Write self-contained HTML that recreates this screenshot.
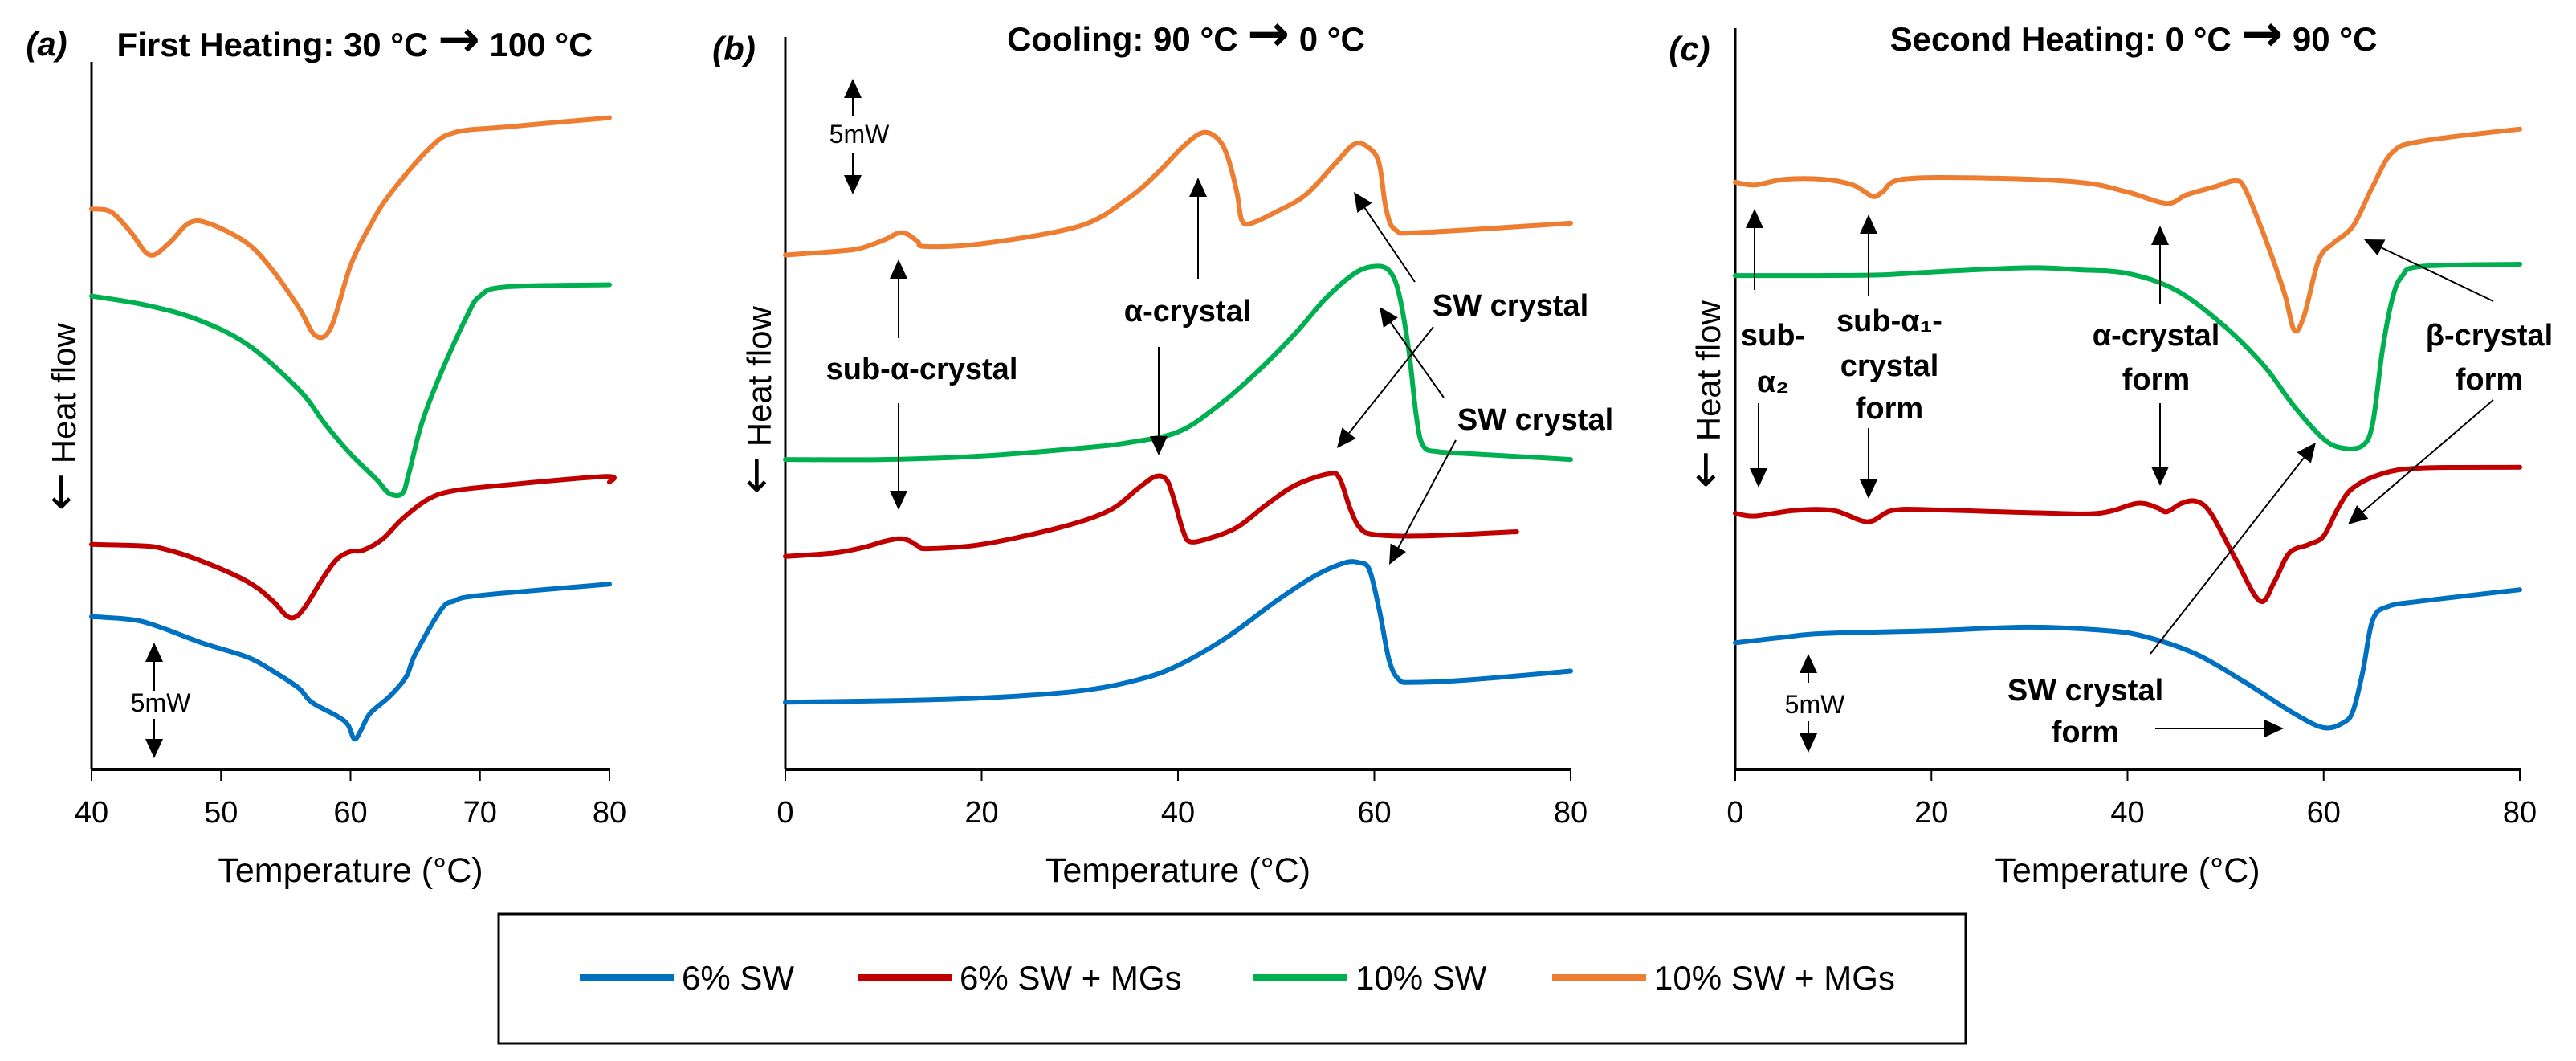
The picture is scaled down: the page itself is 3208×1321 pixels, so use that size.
<!DOCTYPE html>
<html><head><meta charset="utf-8"><style>
html,body{margin:0;padding:0;background:#fff;}
svg{display:block;font-family:"Liberation Sans","DejaVu Sans",sans-serif;}
</style></head><body>
<svg id="fig" width="3208" height="1321" viewBox="0 0 3208 1321" xmlns="http://www.w3.org/2000/svg">
<g id="layer"></g>
</svg>
<script>
// ---- data (heat flow in arbitrary offset units) ----
const seriesNames = ["6% SW","6% SW + MGs","10% SW","10% SW + MGs"];
const seriesColors = ["#0070C0","#C00000","#00B050","#ED7D31"];

// Panel (a) first heating
const aBlueT = [40,43,45,48.5,52,54,56,57,59,59.8,60.3,60.8,61.5,63,64.3,65,67,68,70,80];
const aBlueV = [21.6,21.2,20.3,17.9,15.9,13.9,11.5,9.5,7.5,6.3,4.3,5.5,7.9,10.3,13.1,16.3,22.6,23.8,24.6,26.2];
const aRedT = [40,44,45.5,48,52,54,55,55.7,56.5,58,59,60,61,62.5,64,66,68,72,79.7,80];
const aRedV = [31.8,31.6,31.2,29.8,26.6,23.8,21.8,21.5,23.0,27.4,29.8,30.8,31.0,32.6,35.4,38.2,39.4,40.2,41.4,40.6];
const aGreenT = [40,44,48,52,56,58,60,62,63,64,64.5,65.5,67,69,70,72,80];
const aGreenV = [66.9,65.7,63.7,60.1,53.7,48.9,44.6,41.0,39.0,39.0,41.8,48.9,56.1,64.1,66.9,68.2,68.5];
const aOrangeT = [40,41.5,43,44.5,46,47.5,49,52,54,56,57.3,58.5,60,61.5,63,66,68,72,80];
const aOrangeV = [79.2,78.8,76.0,72.7,74.4,77.2,77.2,74.4,70.5,65.3,61.3,62.5,71.2,76.8,81.2,87.6,90.0,90.8,92.1];

// Panel (b) cooling
const bBlueT = [0,10,20,30,36,40,45,50,54,57,58.5,59.5,60.5,61.5,62.5,64,70,80];
const bBlueV = [9.5,9.7,10.1,11.1,12.7,14.7,18.7,23.8,27.4,29.2,29.2,28.2,22.6,15.5,12.7,12.3,12.7,13.9];
const bRedT = [0,5,8,10,11.5,12.5,13.5,14.5,20,28,33,36,37.7,38.8,39.5,40.5,41.2,43,46,49,52,55.5,56.5,57.5,58.5,60,65,74.5];
const bRedV = [30.1,30.6,31.4,32.2,32.6,32.4,31.6,31.2,31.8,34.2,36.6,39.8,41.4,41.0,38.6,33.8,32.2,32.6,34.2,37.4,40.2,41.8,41.0,37.0,34.2,33.2,33.0,33.6];
const bGreenT = [0,10,20,30,35,40,44,48,52,55,58,60,61.5,62.5,63.5,64.3,65,66.5,70,80];
const bGreenV = [43.8,43.8,44.3,45.4,46.2,47.7,51.3,56.1,61.7,66.5,70.1,71.1,70.5,67.3,59.3,49.7,45.7,44.9,44.6,43.8];
const bOrangeT = [0,5,7.5,10,11.5,12.5,13.5,14.3,20,30,35,38,40.5,42.5,44,45,46,46.5,47.5,50,53,56,58,59.5,60.5,61.2,62.2,65,80];
const bOrangeV = [72.7,73.2,73.6,74.8,75.8,75.6,74.6,73.9,74.3,76.8,80.8,84.4,88.0,90.0,89.2,86.8,81.6,77.6,77.2,78.8,81.2,85.6,88.4,87.8,85.6,79.2,76.2,75.9,77.2];

// Panel (c) second heating
const cBlueT = [0,5,9,20,30,38,42,47,52,57,60,62,63,64,65,66.5,70,80];
const cBlueV = [17.9,18.7,19.2,19.6,20.1,19.6,18.7,16.3,12.3,7.9,5.9,6.6,8.3,13.9,21.1,23.0,23.8,25.4];
const cRedT = [0,2,6,10,13.5,16,20,30,37,41,43,44,45.5,47,48.5,51,53.5,55,56.5,58.5,60,61.5,63,66,70,80];
const cRedV = [36.2,35.8,36.6,36.6,35.0,36.6,36.7,36.3,36.2,37.6,37.0,36.4,37.6,37.9,36.2,29.8,23.8,26.6,30.6,31.8,33.0,37.0,39.8,41.8,42.6,42.7];
const cGreenT = [0,8,15,20,30,35,40,45,50,54,57,60,62,64,65,66,67,68,70,80];
const cGreenV = [69.8,69.8,69.9,70.3,70.9,70.6,70.1,67.7,62.5,56.9,51.3,46.7,45.4,45.8,48.9,59.3,66.5,69.7,71.1,71.4];
const cOrangeT = [0,2,5,9,12,14,15,17,25,35,40,44,46,49,51,52,54,56,57,58,59.5,61,63,65,67,70,80];
const cOrangeV = [83.0,82.6,83.4,83.4,82.6,81.0,81.6,83.4,83.6,83.0,81.6,80.0,81.2,82.4,83.2,82.0,75.2,67.3,62.1,64.1,72.0,74.4,76.8,82.4,87.2,88.8,90.5];

const aTicks = [40,50,60,70,80];
const bTicks = [0,20,40,60,80];
const cTicks = [0,20,40,60,80];

// ---- drawing ----
const NS = "http://www.w3.org/2000/svg";
const layer = document.getElementById('layer');
function mk(tag, attrs, parent){
  const e = document.createElementNS(NS, tag);
  for (const k in attrs) e.setAttribute(k, attrs[k]);
  (parent||layer).appendChild(e);
  return e;
}
const Y0 = 958, YK = 8.81;
function yScale(v){ return Y0 - v*YK; }
function smoothPath(pts){
  let d = "M"+pts[0][0].toFixed(1)+","+pts[0][1].toFixed(1);
  for (let i=0;i<pts.length-1;i++){
    const p0=pts[i-1]||pts[i], p1=pts[i], p2=pts[i+1], p3=pts[i+2]||p2;
    const c1x=p1[0]+(p2[0]-p0[0])/6, c1y=p1[1]+(p2[1]-p0[1])/6;
    const c2x=p2[0]-(p3[0]-p1[0])/6, c2y=p2[1]-(p3[1]-p1[1])/6;
    d+=" C"+c1x.toFixed(1)+","+c1y.toFixed(1)+" "+c2x.toFixed(1)+","+c2y.toFixed(1)+" "+p2[0].toFixed(1)+","+p2[1].toFixed(1);
  }
  return d;
}
function text(x,y,str,opts,name){
  const t = mk('text', Object.assign({x:x,y:y,'font-size':36,'text-anchor':'middle',fill:'#000'}, opts||{}));
  t.textContent = str;
  
  
  return t;
}
// text with a large arrow glyph in the middle
function arrowText(x,y,before,arrowCh,after,opts,name){
  const t = mk('text', Object.assign({x:x,y:y,'font-size':36,'text-anchor':'middle',fill:'#000'}, opts||{}));
  
  
  const s1 = mk('tspan',{},t); s1.textContent = before;
  const s2 = mk('tspan',{'font-size':Math.round((opts['font-size']||36)*1.5),'font-family':'DejaVu Sans, sans-serif','font-weight':'bold'},t); s2.textContent = arrowCh;
  const s3 = mk('tspan',{},t); s3.textContent = after;
  return t;
}
function arrow(x1,y1,x2,y2,w,name){
  const g = mk('g',{});
  
  
  const dx=x2-x1, dy=y2-y1, L=Math.hypot(dx,dy), ux=dx/L, uy=dy/L;
  const hl=24, hw=11;
  const bx=x2-ux*hl, by=y2-uy*hl;
  mk('line',{x1:x1,y1:y1,x2:bx,y2:by,stroke:'#000','stroke-width':w||2},g);
  mk('polygon',{points:x2+","+y2+" "+(bx-uy*hw)+","+(by+ux*hw)+" "+(bx+uy*hw)+","+(by-ux*hw),fill:'#000'},g);
}
function panel(id, x0, x1, xmin, xmax, ticks, yTop, series){
  const g = mk('g',{});
  
  
  const xs = t => x0 + (t-xmin)/(xmax-xmin)*(x1-x0);
  const ya = mk('line',{x1:x0,y1:yTop,x2:x0,y2:Y0,stroke:'#000','stroke-width':3},g);
  
  
  const xa = mk('line',{x1:x0-1,y1:Y0,x2:x1+1,y2:Y0,stroke:'#000','stroke-width':4},g);
  
  
  ticks.forEach(t=>{
    const tk = mk('line',{x1:xs(t),y1:Y0,x2:xs(t),y2:Y0+14,stroke:'#000','stroke-width':2},g);
    
    
    text(xs(t), Y0+66, String(t), {'font-size':38}, 'x-tick-label');
  });
  text((x0+x1)/2, 1098, "Temperature (°C)", {'font-size':43}, 'x-axis-title');
  series.forEach((s,i)=>{
    const pts = s[0].map((t,j)=>[xs(t), yScale(s[1][j])]);
    const p = mk('path',{d:smoothPath(pts),fill:'none',stroke:seriesColors[i],'stroke-width':6,'stroke-linejoin':'round','stroke-linecap':'round'},g);
    
    
  });
}
panel('a',114,759,40,80,aTicks,77,[[aBlueT,aBlueV],[aRedT,aRedV],[aGreenT,aGreenV],[aOrangeT,aOrangeV]]);
panel('b',978,1956,0,80,bTicks,46,[[bBlueT,bBlueV],[bRedT,bRedV],[bGreenT,bGreenV],[bOrangeT,bOrangeV]]);
panel('c',2161,3138,0,80,cTicks,35,[[cBlueT,cBlueV],[cRedT,cRedV],[cGreenT,cGreenV],[cOrangeT,cOrangeV]]);

// titles
const B = {'font-weight':'bold','font-size':42};
text(58,69,"(a)",{'font-weight':'bold','font-style':'italic','font-size':42},'panel-label-a');
arrowText(442,70,"First Heating: 30 °C ","→"," 100 °C",B,'panel-title-a');
text(914,75,"(b)",{'font-weight':'bold','font-style':'italic','font-size':42},'panel-label-b');
arrowText(1477,63,"Cooling: 90 °C ","→"," 0 °C",B,'panel-title-b');
text(2104,75,"(c)",{'font-weight':'bold','font-style':'italic','font-size':42},'panel-label-c');
arrowText(2657,63,"Second Heating: 0 °C ","→"," 90 °C",B,'panel-title-c');

// y axis titles
[[94,519,'a'],[960,498,'b'],[2142,491,'c']].forEach(p=>{
  const t = mk('text',{x:p[0],y:p[1],'font-size':42,'text-anchor':'middle',fill:'#000',transform:'rotate(-90 '+p[0]+' '+p[1]+')'});
  
  
  const s1 = mk('tspan',{'font-size':56,'font-family':'DejaVu Sans, sans-serif'},t); s1.textContent = "←";
  const s2 = mk('tspan',{},t); s2.textContent = " Heat flow";
});

// 5mW scale bars
function scale(x,yUp1,yUp2,yT,yD1,yD2,name){
  arrow(x,yUp1,x,yUp2,2,name+'-up');
  text(x+8,yT,"5mW",{'font-size':32},name+'-text');
  arrow(x,yD1,x,yD2,2,name+'-down');
}
scale(192,860,800,886,895,944,'scale-bar-a');
scale(1062,145,98,178,190,242,'scale-bar-b');
scale(2252,850,814,888,898,937,'scale-bar-c');

// annotations panel b
const AB = {'font-weight':'bold','font-size':38};
text(1148,472,"sub-α-crystal",AB,'annotation-sub-alpha-b');
arrow(1119,421,1119,323,2,'arrow-sub-alpha-up');
arrow(1119,502,1119,635,2,'arrow-sub-alpha-down');
text(1479,400,"α-crystal",AB,'annotation-alpha-b');
arrow(1492,347,1492,221,2,'arrow-alpha-up');
arrow(1443,432,1443,567,2,'arrow-alpha-down');
text(1881,393,"SW crystal",AB,'annotation-sw-1');
arrow(1762,351,1686,239,2,'arrow-sw-orange');
arrow(1785,407,1665,558,2,'arrow-sw-red');
text(1912,535,"SW crystal",AB,'annotation-sw-2');
arrow(1798,495,1718,382,2,'arrow-sw-green');
arrow(1813,548,1730,703,2,'arrow-sw-blue');

// annotations panel c
text(2208,430,"sub-",AB,'annotation-sub-a2');
text(2208,488,"α₂",AB,'annotation-sub-a2-sym');
arrow(2185,361,2185,260,2,'arrow-sub-a2-up');
arrow(2190,502,2190,607,2,'arrow-sub-a2-down');
text(2353,412,"sub-α₁-",AB,'annotation-sub-a1');
text(2353,468,"crystal",AB,'annotation-sub-a1-2');
text(2353,521,"form",AB,'annotation-sub-a1-3');
arrow(2327,368,2327,267,2,'arrow-sub-a1-up');
arrow(2327,533,2327,621,2,'arrow-sub-a1-down');
text(2685,430,"α-crystal",AB,'annotation-alpha-c');
text(2685,485,"form",AB,'annotation-alpha-c-2');
arrow(2690,379,2690,281,2,'arrow-alpha-c-up');
arrow(2690,502,2690,605,2,'arrow-alpha-c-down');
text(3100,430,"β-crystal",AB,'annotation-beta');
text(3100,485,"form",AB,'annotation-beta-2');
arrow(3105,375,2944,298,2,'arrow-beta-orange');
arrow(3105,498,2924,653,2,'arrow-beta-red');
text(2597,872,"SW crystal",AB,'annotation-sw-c');
text(2597,924,"form",AB,'annotation-sw-c-2');
arrow(2678,814,2884,551,2,'arrow-sw-c-green');
arrow(2684,907,2844,907,2,'arrow-sw-c-blue');

// legend
const lg = mk('g',{});


const lr = mk('rect',{x:621,y:1138,width:1827,height:161,fill:'#fff',stroke:'#000','stroke-width':3},lg);


const legX = [722,1068,1561,1933];
seriesNames.forEach((n,i)=>{
  const ln = mk('line',{x1:legX[i],y1:1217,x2:legX[i]+117,y2:1217,stroke:seriesColors[i],'stroke-width':8},lg);
  
  
  const t = mk('text',{x:legX[i]+127,y:1232,'font-size':42,fill:'#000'},lg);
  t.textContent = n;
  
  
});
</script>
</body></html>
